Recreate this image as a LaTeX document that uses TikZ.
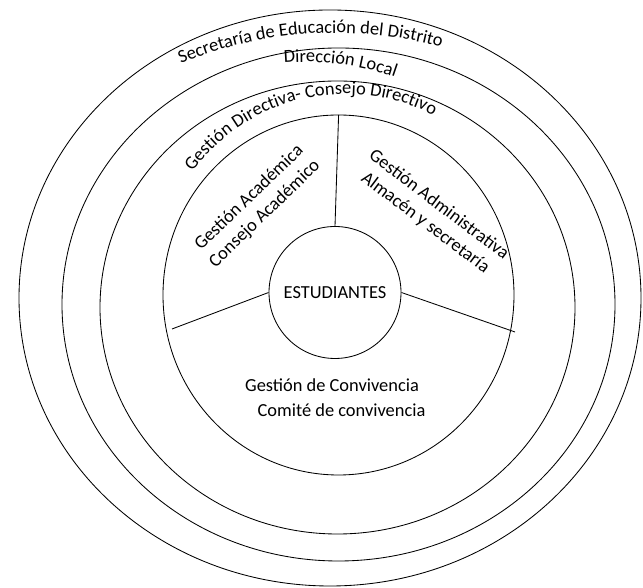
\documentclass[tikz,border=0pt]{standalone}
\usepackage{fontspec}
\setmainfont{Carlito}
\usetikzlibrary{decorations.text}
\newcommand\myfs{\fontsize{18.4}{22.5}\selectfont}
\begin{document}
\begin{tikzpicture}[x=1pt,y=1pt,
  ring/.style={draw=black, line width=0.85pt},
  lbl/.style={font=\myfs, inner sep=0pt},
  divider/.style={draw=black, line width=0.85pt}
]
\useasboundingbox (0,0) rectangle (643,588);
% rings
\draw[ring] (330,290) ellipse [x radius=311pt, y radius=288pt];
\draw[ring] (338.5,283.5) ellipse [x radius=276.5pt, y radius=256.5pt];
\draw[ring] (337.5,280.5) ellipse [x radius=237.5pt, y radius=226.5pt];
\draw[ring] (338.5,293) ellipse [x radius=175.5pt, y radius=180pt];
% centre
\node[draw=black, line width=0.85pt, circle, minimum size=132pt, inner sep=0pt, font=\myfs] (est) at (335,295.5) {ESTUDIANTES};
% dividers
\coordinate (t1) at (338.6,473);
\coordinate (t2) at (172,259);
\coordinate (t3) at (515,256);
\draw[divider] (est.north) -- (t1);
\draw[divider] (est.west) -- (t2);
\draw[divider] (est.east) -- (t3);
% curved labels
\path[decorate, decoration={text along path, text align=center,
  text={|\myfs|Secretaría de Educación del Distrito}}]
  ([shift={(335,152)}]112.3:403pt) arc[start angle=112.3, end angle=74.9, radius=403pt];
\path[decorate, decoration={text along path, text align=center,
  text={|\myfs|Dirección Local}}]
  ([shift={(305,252)}]94.8:274pt) arc[start angle=94.8, end angle=70.4, radius=274pt];
\path[decorate, decoration={text along path, text align=center,
  text={|\myfs|Gestión Directiva- Consejo Directivo}}]
  ([shift={(346,304)}]145:190pt) arc[start angle=145, end angle=61.4, radius=190pt];
% sector labels
\node[lbl, align=center, rotate=44] (acad) at (257,382) {Gestión Académica\\Consejo Académico};
\node[lbl, align=center, rotate=-37] (admin) at (432,374) {Gestión Administrativa\\Almacén y secretaría};
\node[lbl, anchor=base] (conv1) at (332,196.3) {Gestión de Convivencia};
\node[lbl, anchor=base] (conv2) at (341.5,171) {Comité de convivencia};
\end{tikzpicture}
\end{document}
